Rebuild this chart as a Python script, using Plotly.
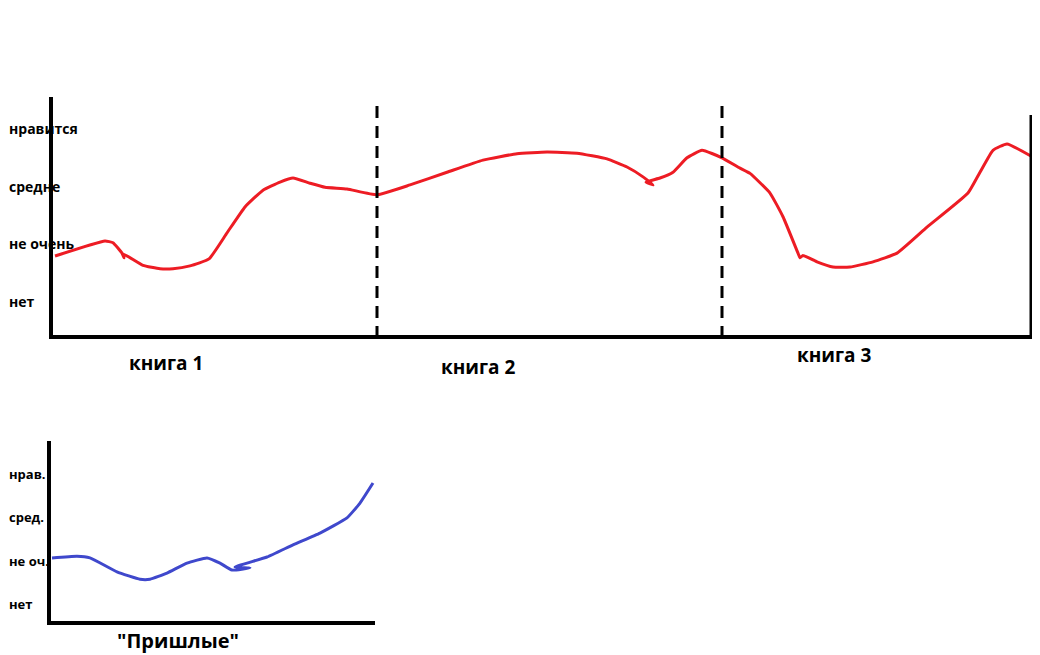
import plotly.graph_objects as go

# ---------------- data ----------------
# main chart: reading progress position (x) vs. rating (0=нет .. 3=нравится)
rating_labels = ["нет", "не очень", "средне", "нравится"]
rating_vals = [0, 1, 2, 3]

book_labels = ["книга 1", "книга 2", "книга 3"]
book_label_x = [113, 425, 781]
book_bounds = [324, 669]
book_end = 978

red_x = [2, 52, 60, 69, 71, 70, 90, 107, 120, 137, 156, 174, 192, 210, 227, 240, 257, 272, 294,
         324, 357, 394, 430, 464, 494, 524, 554, 574, 590, 600, 593, 607, 620, 634, 649, 669,
         687, 697, 717, 730, 745, 747, 750, 764, 780, 797, 820, 844, 874, 915, 927, 940, 954, 980]
red_y = [0.79, 1.05, 1.02, 0.84, 0.76, 0.83, 0.63, 0.57, 0.57, 0.62, 0.74, 1.19, 1.64, 1.93, 2.07, 2.14, 2.05, 1.98, 1.95,
         1.85, 2.02, 2.24, 2.45, 2.56, 2.59, 2.57, 2.47, 2.33, 2.16, 2.02, 2.07, 2.14, 2.24, 2.49, 2.62, 2.49,
         2.31, 2.22, 1.88, 1.47, 0.84, 0.76, 0.80, 0.69, 0.60, 0.60, 0.69, 0.84, 1.29, 1.88, 2.24, 2.62, 2.73, 2.50]

# small chart: "Пришлые"
small_labels = ["нет", "не оч.", "сред.", "нрав."]
small_vals = [0, 1, 2, 3]
small_title = '"Пришлые"'
small_title_x = 127

blue_x = [1, 26, 39, 66, 89, 99, 116, 136, 156, 169, 181, 199, 184, 216, 242, 269, 296, 309, 322]
blue_y = [1.06, 1.10, 1.06, 0.74, 0.57, 0.57, 0.71, 0.94, 1.06, 0.94, 0.78, 0.83, 0.85, 1.08, 1.36, 1.63, 1.98, 2.32, 2.78]

# ---------------- layout helpers ----------------
OFF = 8                      # page body margin
W, H = 1040 - OFF, 655 - OFF
FONT = "Open Sans"
RED = "#ED1C24"
BLUE = "#3F48CC"


def px(x):
    return (x - OFF) / W


def py(y):
    return 1 - (y - OFF) / H


# main axis: rating r sits at 301.7 - 57.8*r px ; area 97..335 px
main_top, main_bot, main_zero, main_unit = 97, 335, 301.7, 57.8
main_rmin = -(main_bot - main_zero) / main_unit
main_rmax = (main_zero - main_top) / main_unit
# small axis: r sits at 604 - 43.5*r px ; area 441..621 px
small_top, small_bot, small_zero, small_unit = 441, 621, 604, 43.5
small_rmin = -(small_bot - small_zero) / small_unit
small_rmax = (small_zero - small_top) / small_unit

fig = go.Figure()

fig.add_trace(go.Scatter(
    x=red_x, y=red_y, mode="lines", line=dict(color=RED, width=3, shape="spline", smoothing=0.4),
    cliponaxis=False, hoverinfo="skip", showlegend=False, xaxis="x", yaxis="y"))

fig.add_trace(go.Scatter(
    x=blue_x, y=blue_y, mode="lines", line=dict(color=BLUE, width=3, shape="spline", smoothing=0.4),
    cliponaxis=False, hoverinfo="skip", showlegend=False, xaxis="x2", yaxis="y2"))

shapes = []
for bx in book_bounds:
    shapes.append(dict(type="line", xref="x", yref="y", x0=bx, x1=bx,
                       y0=(main_zero - 106) / main_unit, y1=main_rmin,
                       line=dict(color="black", width=3, dash="12px,8px"), layer="above"))
shapes.append(dict(type="line", xref="x", yref="y", x0=book_end, x1=book_end,
                   y0=(main_zero - 115) / main_unit, y1=main_rmin,
                   line=dict(color="black", width=3), layer="above"))

annotations = []
for t, v in zip(rating_labels, rating_vals):
    annotations.append(dict(text="<b>%s</b>" % t, x=px(OFF), y=v, xref="paper", yref="y",
                            xanchor="left", yanchor="middle", showarrow=False, borderpad=0,
                            font=dict(family=FONT, size=14, color="black")))
for t, v in zip(small_labels, small_vals):
    annotations.append(dict(text="<b>%s</b>" % t, x=px(OFF), y=v, xref="paper", yref="y2",
                            xanchor="left", yanchor="middle", showarrow=False, borderpad=0,
                            font=dict(family=FONT, size=13, color="black")))
for t, x, ypix in zip(book_labels, book_label_x, [363, 367, 355]):
    annotations.append(dict(text="<b>%s</b>" % t, x=x, y=py(ypix), xref="x", yref="paper",
                            yanchor="middle", showarrow=False,
                            font=dict(family=FONT, size=19, color="black")))
annotations.append(dict(text="<b>%s</b>" % small_title, x=small_title_x, y=py(640),
                        xref="x2", yref="paper", yanchor="middle", showarrow=False, borderpad=0,
                        font=dict(family=FONT, size=20, color="black")))

axis_common = dict(showgrid=False, zeroline=False, showticklabels=False, ticks="",
                   showline=True, linecolor="black", linewidth=4, fixedrange=True)

fig.update_layout(
    width=W, height=H, autosize=False,
    margin=dict(l=0, r=0, t=0, b=0),
    paper_bgcolor="white", plot_bgcolor="white",
    xaxis=dict(domain=[px(53), px(1033)], range=[0, 980], anchor="y", **axis_common),
    yaxis=dict(domain=[py(main_bot), py(main_top)], range=[main_rmin, main_rmax],
               anchor="x", **axis_common),
    xaxis2=dict(domain=[px(51), px(375)], range=[0, 324], anchor="y2", **axis_common),
    yaxis2=dict(domain=[py(small_bot), py(small_top)], range=[small_rmin, small_rmax],
                anchor="x2", **axis_common),
    shapes=shapes, annotations=annotations,
)

fig.write_html("out.html", config={"displayModeBar": False})
